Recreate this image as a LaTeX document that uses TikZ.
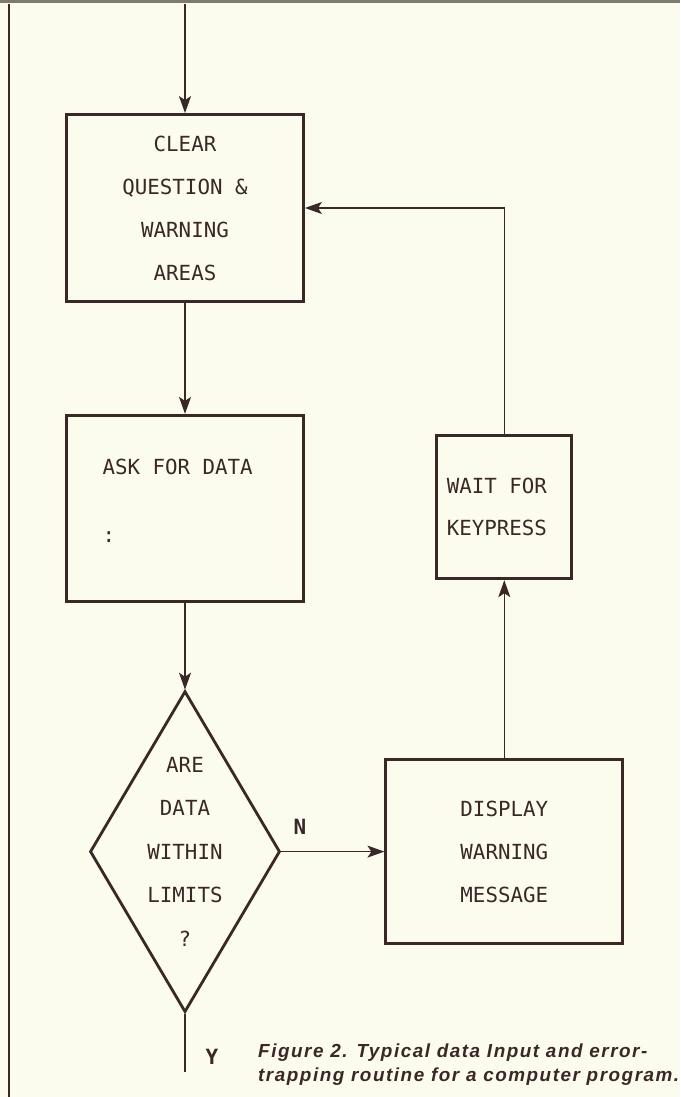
\documentclass[tikz,border=0pt]{standalone}
\usepackage{fontspec}
\usepackage{tikz}
\usetikzlibrary{
  shapes.geometric,
  arrows.meta,
  positioning, calc
}
\newfontfamily\chartfont{DejaVu Sans Mono}
\newfontfamily\capfont[LetterSpace=8]{Liberation Sans}
\definecolor{PaperCream}{RGB}{252,252,238}
\definecolor{InkBrown}{RGB}{58,40,38}
\definecolor{EdgeGray}{RGB}{125,122,110}
\tikzset{
  basebox/.style={rectangle, draw=InkBrown, line width=2.8pt,
    text=InkBrown, align=center, inner sep=0pt,
    font=\chartfont\fontsize{20.8}{43}\selectfont},
  procbox/.style={basebox, minimum width=237pt, minimum height=187pt},
  arrow/.style={-{Stealth[length=17pt, width=12pt, inset=4pt]},
    line width=1.4pt, draw=InkBrown},
  flowline/.style={line width=1.4pt, draw=InkBrown},
  branchlbl/.style={text=InkBrown, inner sep=0pt,
    font=\chartfont\bfseries\fontsize{21}{21}\selectfont}
}

\begin{document}
\begin{tikzpicture}[x=1pt, y=-1pt,
    decision/.style={diamond, draw=InkBrown, line width=2.8pt,
      aspect=0.59, minimum width=190pt, minimum height=321pt,
      inner sep=0pt, align=center, text=InkBrown,
      font=\chartfont\fontsize{20.8}{43.5}\selectfont},
    askbox/.style={procbox, align=flush left, inner xsep=36pt,
      text width=165pt, minimum height=186pt},
    waitbox/.style={basebox, align=flush left, inner xsep=10pt,
      text width=115pt, minimum height=143pt,
      font=\chartfont\fontsize{20.8}{42}\selectfont},
    captiontext/.style={anchor=north west, inner sep=0pt, align=left,
      text=InkBrown, font=\capfont\bfseries\itshape\fontsize{18.9}{24}\selectfont}]

  % Page
  \fill[PaperCream] (0,0) rectangle (680,1097);
  \useasboundingbox (0,0) rectangle (680,1097);
  \draw[EdgeGray, line width=3pt] (0,1.5) -- (680,1.5);
  \draw[InkBrown, line width=1.2pt] (9,4) -- (9,1097);

  % Main column
  \coordinate (entry) at (185,4);
  \node[procbox] (clear) at (185,208) {CLEAR\\QUESTION \&\\WARNING\\AREAS};
  \node[askbox, below=111pt of clear] (ask)
    {ASK FOR DATA\\[25pt]:\rule[-15pt]{0pt}{15pt}};
  \node[decision, below=87pt of ask] (check)
    {ARE\\DATA\\WITHIN\\LIMITS\\?};
  \coordinate (exit) at (185,1072);

  % Warning branch
  \node[procbox, minimum height=184pt, right=103pt of check] (warn)
    {DISPLAY\\WARNING\\MESSAGE};
  \node[waitbox, above=178pt of warn] (wait) {WAIT FOR\\KEYPRESS};

  \draw[arrow] (entry) -- (clear);
  \draw[arrow] (clear) -- (ask);
  \draw[arrow] (ask) -- (check);
  \draw[flowline] (check.south) -- (exit);
  \draw[arrow] (check.east) -- (check.east -| warn.west);
  \draw[arrow] (warn) -- (wait);
  \draw[arrow] (wait.north) |- (clear.east);

  % Labels
  \node[branchlbl] (nolbl) at (300,827) {N};
  \node[branchlbl] (yeslbl) at (212,1057) {Y};
  \node[captiontext] (cap) at (258,1044)
    {Figure 2. Typical data Input and error-\\trapping routine for a computer program.};

\end{tikzpicture}
\end{document}
